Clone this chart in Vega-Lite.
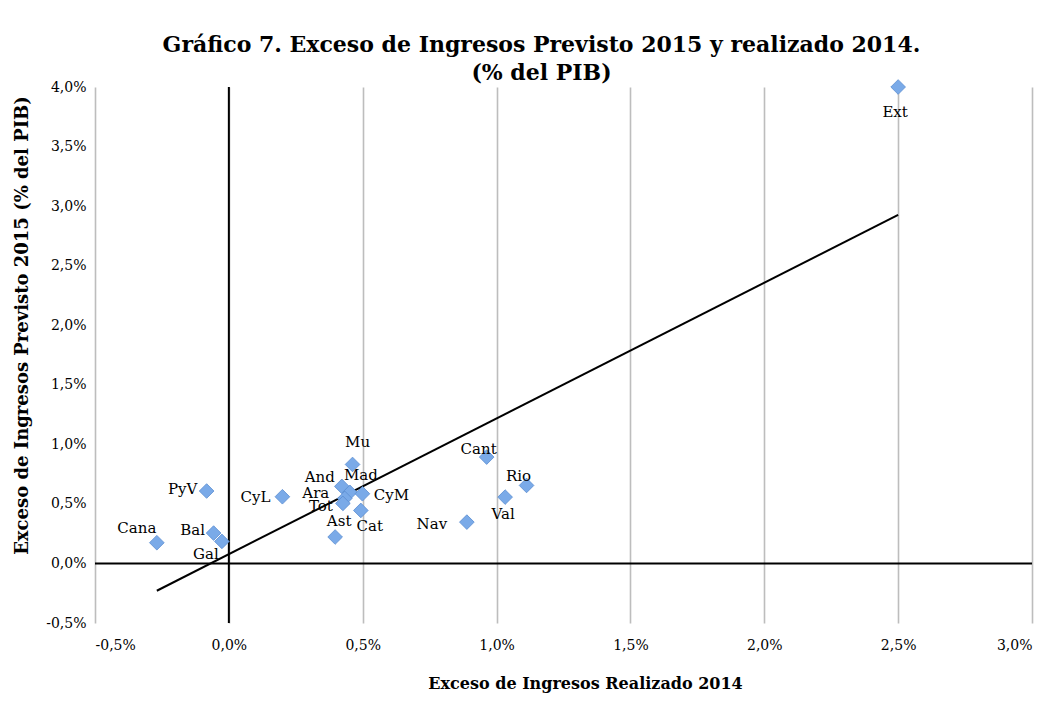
{
  "$schema": "https://vega.github.io/schema/vega-lite/v6.json",
  "width": 937,
  "height": 536,
  "autosize": "none",
  "padding": {"left": 95, "top": 87, "right": 18, "bottom": 99},
  "background": "white",
  "title": {
    "text": ["Gráfico 7. Exceso de Ingresos Previsto 2015 y realizado  2014.", "(% del PIB)"],
    "font": "DejaVu Serif",
    "fontSize": 22,
    "fontWeight": "bold",
    "color": "black",
    "anchor": "middle",
    "dx": -22,
    "dy": 14,
    "lineHeight": 28,
    "offset": 7
  },
  "config": {
    "view": {"stroke": null},
    "axis": {
      "domain": false,
      "ticks": false,
      "labelFont": "DejaVu Serif",
      "labelFontSize": 14,
      "labelColor": "black",
      "titleFont": "DejaVu Serif",
      "titleFontWeight": "bold",
      "titleColor": "black"
    }
  },
  "data": {
    "values": [
      {"n": "Ext", "x": 2.50, "y": 4.00},
      {"n": "Cana", "x": -0.269, "y": 0.174},
      {"n": "PyV", "x": -0.083, "y": 0.608},
      {"n": "Bal", "x": -0.057, "y": 0.255},
      {"n": "Gal", "x": -0.026, "y": 0.185},
      {"n": "CyL", "x": 0.20, "y": 0.56},
      {"n": "Mu", "x": 0.462, "y": 0.831},
      {"n": "And", "x": 0.422, "y": 0.647},
      {"n": "Mad", "x": 0.452, "y": 0.597},
      {"n": "Ara", "x": 0.433, "y": 0.546},
      {"n": "Tot", "x": 0.426, "y": 0.504},
      {"n": "CyM", "x": 0.499, "y": 0.585},
      {"n": "Cat", "x": 0.493, "y": 0.445},
      {"n": "Ast", "x": 0.397, "y": 0.222},
      {"n": "Cant", "x": 0.963, "y": 0.893},
      {"n": "Rio", "x": 1.112, "y": 0.655},
      {"n": "Val", "x": 1.032, "y": 0.557},
      {"n": "Nav", "x": 0.889, "y": 0.347}
    ]
  },
  "layer": [
    {
      "mark": {"type": "point", "opacity": 0},
      "encoding": {
        "x": {
          "field": "x", "type": "quantitative",
          "scale": {"domain": [-0.5, 3], "nice": false, "zero": false},
          "axis": {
            "title": "Exceso de Ingresos Realizado 2014",
            "values": [-0.5, 0, 0.5, 1, 1.5, 2, 2.5, 3],
            "labelExpr": "replace(replace(format(datum.value, '.1f'), '.', ','), '\u2212', '-') + '%'",
            "grid": true,
            "gridColor": "#BDBDBD",
            "gridWidth": 1.6,
            "labelPadding": 15,
            "titleFontSize": 16,
            "titleX": 490,
            "titleY": 60,
            "titleBaseline": "middle",
            "titleAlign": "center"
          }
        },
        "y": {
          "field": "y", "type": "quantitative",
          "scale": {"domain": [-0.5, 4], "nice": false, "zero": false},
          "axis": {
            "title": "Exceso de Ingresos Previsto 2015 (% del PIB)",
            "values": [-0.5, 0, 0.5, 1, 1.5, 2, 2.5, 3, 3.5, 4],
            "labelExpr": "replace(replace(format(datum.value, '.1f'), '.', ','), '\u2212', '-') + '%'",
            "grid": false,
            "labelPadding": 9,
            "titleFontSize": 18,
            "titleX": -73,
            "titleY": 238,
            "titleBaseline": "middle",
            "titleAlign": "center",
            "titleAngle": -90
          }
        }
      }
    },
    {
      "data": {"values": [{"x": 0}]},
      "mark": {"type": "rule", "color": "black", "strokeWidth": 2},
      "encoding": {"x": {"field": "x", "type": "quantitative"}}
    },
    {
      "data": {"values": [{"y": 0}]},
      "mark": {"type": "rule", "color": "black", "strokeWidth": 2},
      "encoding": {"y": {"field": "y", "type": "quantitative"}}
    },
    {
      "transform": [{"regression": "y", "on": "x", "method": "linear"}],
      "mark": {"type": "line", "color": "black", "strokeWidth": 2},
      "encoding": {
        "x": {"field": "x", "type": "quantitative"},
        "y": {"field": "y", "type": "quantitative"}
      }
    },
    {
      "mark": {"type": "point", "shape": "diamond", "size": 215, "filled": true, "fill": "#7AAAE8", "stroke": "#5B8DD0", "strokeWidth": 0.8, "opacity": 1},
      "encoding": {
        "x": {"field": "x", "type": "quantitative"},
        "y": {"field": "y", "type": "quantitative"}
      }
    },
    {
      "encoding": {
        "x": {"field": "x", "type": "quantitative"},
        "y": {"field": "y", "type": "quantitative"},
        "text": {"field": "n", "type": "nominal"}
      },
      "layer": [
        {"transform": [{"filter": "datum.n == 'Ext'"}], "mark": {"type": "text", "font": "DejaVu Serif", "fontSize": 15, "color": "black", "dx": -3, "dy": 25}},
        {"transform": [{"filter": "datum.n == 'Cana'"}], "mark": {"type": "text", "font": "DejaVu Serif", "fontSize": 15, "color": "black", "dx": -20, "dy": -15}},
        {"transform": [{"filter": "datum.n == 'PyV'"}], "mark": {"type": "text", "font": "DejaVu Serif", "fontSize": 15, "color": "black", "dx": -24, "dy": -2}},
        {"transform": [{"filter": "datum.n == 'Bal'"}], "mark": {"type": "text", "font": "DejaVu Serif", "fontSize": 15, "color": "black", "dx": -21, "dy": -3}},
        {"transform": [{"filter": "datum.n == 'Gal'"}], "mark": {"type": "text", "font": "DejaVu Serif", "fontSize": 15, "color": "black", "dx": -16, "dy": 13}},
        {"transform": [{"filter": "datum.n == 'CyL'"}], "mark": {"type": "text", "font": "DejaVu Serif", "fontSize": 15, "color": "black", "dx": -27, "dy": 0}},
        {"transform": [{"filter": "datum.n == 'Mu'"}], "mark": {"type": "text", "font": "DejaVu Serif", "fontSize": 15, "color": "black", "dx": 5, "dy": -22}},
        {"transform": [{"filter": "datum.n == 'And'"}], "mark": {"type": "text", "font": "DejaVu Serif", "fontSize": 15, "color": "black", "dx": -22, "dy": -9}},
        {"transform": [{"filter": "datum.n == 'Mad'"}], "mark": {"type": "text", "font": "DejaVu Serif", "fontSize": 15, "color": "black", "dx": 11, "dy": -17}},
        {"transform": [{"filter": "datum.n == 'Ara'"}], "mark": {"type": "text", "font": "DejaVu Serif", "fontSize": 15, "color": "black", "dx": -29, "dy": -5}},
        {"transform": [{"filter": "datum.n == 'Tot'"}], "mark": {"type": "text", "font": "DejaVu Serif", "fontSize": 15, "color": "black", "dx": -22, "dy": 3}},
        {"transform": [{"filter": "datum.n == 'CyM'"}], "mark": {"type": "text", "font": "DejaVu Serif", "fontSize": 15, "color": "black", "dx": 29, "dy": 1}},
        {"transform": [{"filter": "datum.n == 'Cat'"}], "mark": {"type": "text", "font": "DejaVu Serif", "fontSize": 15, "color": "black", "dx": 9, "dy": 16}},
        {"transform": [{"filter": "datum.n == 'Ast'"}], "mark": {"type": "text", "font": "DejaVu Serif", "fontSize": 15, "color": "black", "dx": 4, "dy": -16}},
        {"transform": [{"filter": "datum.n == 'Cant'"}], "mark": {"type": "text", "font": "DejaVu Serif", "fontSize": 15, "color": "black", "dx": -8, "dy": -8}},
        {"transform": [{"filter": "datum.n == 'Rio'"}], "mark": {"type": "text", "font": "DejaVu Serif", "fontSize": 15, "color": "black", "dx": -8, "dy": -9}},
        {"transform": [{"filter": "datum.n == 'Val'"}], "mark": {"type": "text", "font": "DejaVu Serif", "fontSize": 15, "color": "black", "dx": -2, "dy": 17}},
        {"transform": [{"filter": "datum.n == 'Nav'"}], "mark": {"type": "text", "font": "DejaVu Serif", "fontSize": 15, "color": "black", "dx": -35, "dy": 2}}
      ]
    }
  ]
}
